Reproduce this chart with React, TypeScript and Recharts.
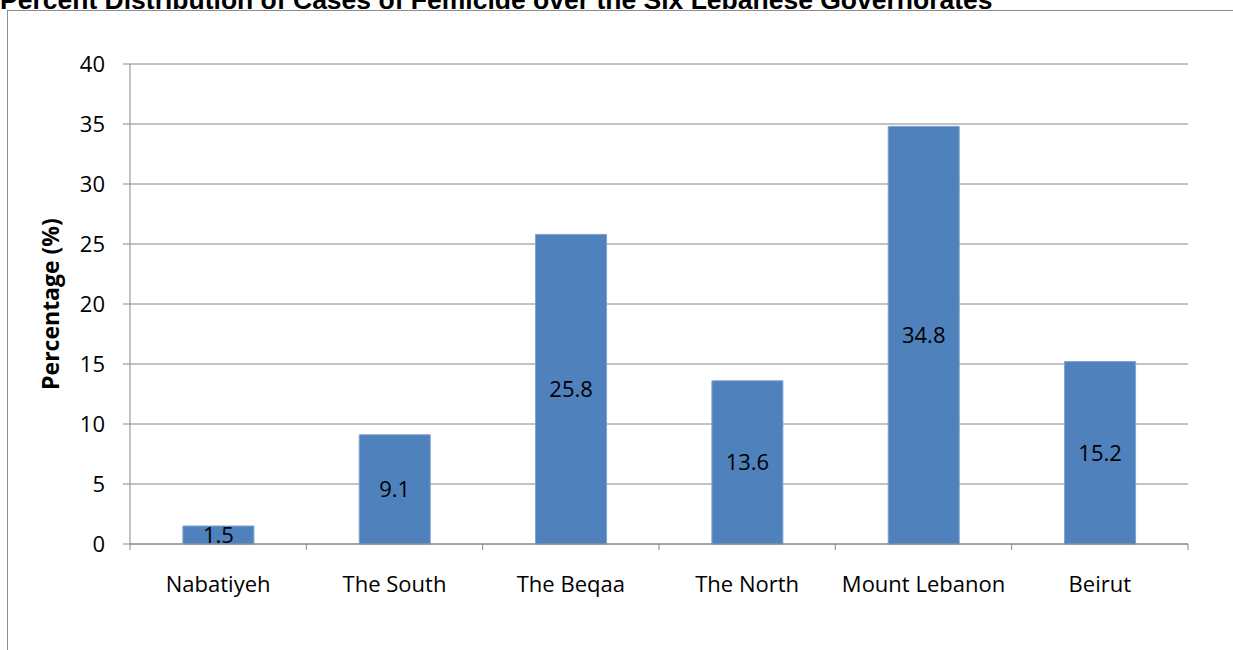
import { BarChart, Bar, XAxis, YAxis, CartesianGrid, LabelList } from 'recharts'

const categories = ['Nabatiyeh', 'The South', 'The Beqaa', 'The North', 'Mount Lebanon', 'Beirut']
const percentages = [1.5, 9.1, 25.8, 13.6, 34.8, 15.2]
const yTicks = [0, 5, 10, 15, 20, 25, 30, 35, 40]

const data = categories.map((name, i) => ({ name, value: percentages[i] }))

const font = '"Open Sans", "Noto Sans", sans-serif'
const axisGray = '#868686'

// category label plus the Excel-style tick marks on the band boundaries
function CategoryTick(props: any) {
  const { x, y, payload, width, visibleTicksCount, index } = props
  const half = payload.offset || width / visibleTicksCount / 2
  const last = index === visibleTicksCount - 1
  return (
    <g>
      <line x1={x - half} x2={x - half} y1={y} y2={y + 6} stroke={axisGray} />
      {last && <line x1={x + half} x2={x + half} y1={y} y2={y + 6} stroke={axisGray} />}
      <text x={x} y={y + 32} dy="0.71em" textAnchor="middle" fill="#000" fontSize={22} fontFamily={font}>
        {payload.value}
      </text>
    </g>
  )
}

export default function App() {
  return (
    <div style={{ position: 'absolute', left: 0, top: 0, width: 1233, height: 650, background: '#fff', overflow: 'hidden' }}>
      {/* frame of the chart object */}
      <div style={{ position: 'absolute', left: 7, top: 10, width: 1240, height: 660, border: '1px solid #8c8c8c' }} />
      <div
        style={{
          position: 'absolute',
          left: 0,
          top: -15,
          fontFamily: '"Liberation Sans", Arial, sans-serif',
          fontWeight: 'bold',
          fontSize: 26.5,
          whiteSpace: 'nowrap',
          lineHeight: '30px',
        }}
      >
        Percent Distribution of Cases of Femicide over the Six Lebanese Governorates
      </div>
      <div style={{ position: 'absolute', left: 0, top: 0 }}>
        <BarChart
          width={1233}
          height={650}
          data={data}
          margin={{ top: 64, right: 45, bottom: 56, left: 0 }}
          barCategoryGap="30%"
        >
          <CartesianGrid vertical={false} stroke={axisGray} strokeWidth={1} />
          <XAxis
            dataKey="name"
            height={50}
            tickLine={false}
            tickSize={0}
            tickMargin={0}
            axisLine={{ stroke: axisGray }}
            tick={<CategoryTick />}
            interval={0}
          />
          <YAxis
            width={130}
            domain={[0, 40]}
            ticks={yTicks}
            interval={0}
            tickSize={7}
            tickMargin={18}
            tickLine={{ stroke: axisGray }}
            axisLine={{ stroke: axisGray }}
            tick={{ fill: '#000', fontSize: 22, fontFamily: font }}
            label={{
              value: 'Percentage (%)',
              angle: -90,
              position: 'insideLeft',
              dx: 46,
              style: { fontWeight: 'bold', fontSize: 23, fill: '#000', fontFamily: font, textAnchor: 'middle' },
            }}
          />
          <Bar dataKey="value" fill="#4F81BD" stroke="#7EA1CE" strokeWidth={1} isAnimationActive={false}>
            <LabelList
              dataKey="value"
              position="center"
              fill="#000"
              style={{ fontSize: 22, fontFamily: font }}
            />
          </Bar>
        </BarChart>
      </div>
    </div>
  )
}
